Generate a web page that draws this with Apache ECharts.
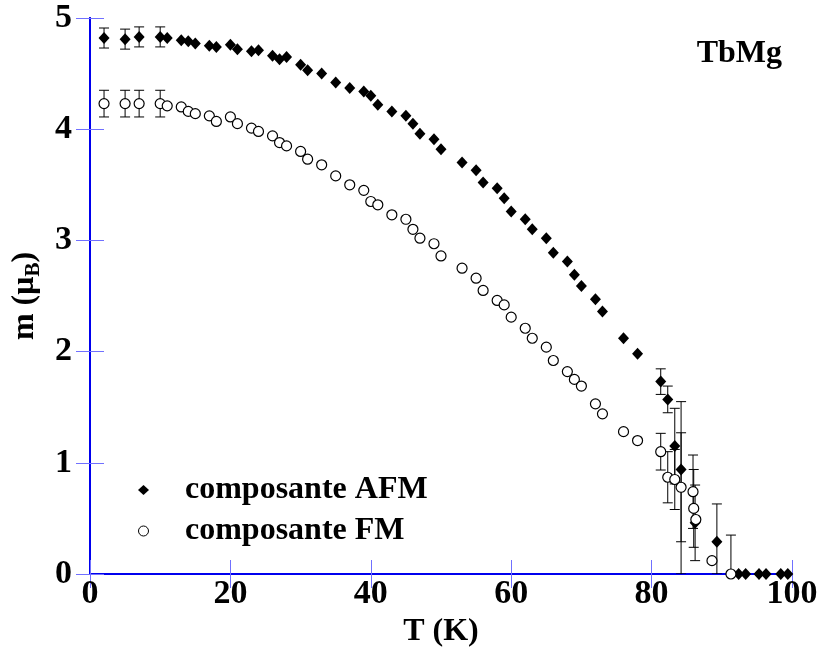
<!DOCTYPE html>
<html>
<head>
<meta charset="utf-8">
<script src="https://cdn.jsdelivr.net/npm/echarts@6/dist/echarts.min.js"></script>
<style>html,body{margin:0;padding:0;background:#fff}#c{width:823px;height:648px}</style>
</head>
<body>
<div id="c"></div>
<script>
// ---- data ----
const xTicks = [0, 20, 40, 60, 80, 100];
const yTicks = [0, 1, 2, 3, 4, 5];

const afmT = [2,5,7,10,11,13,14,15,17,18,20,21,23,24,26,27,28,30,31,33,35,37,39,40,41,43,45,46,47,49,50,53,55,56,58,59,60,62,63,65,66,68,69,70,72,73,76,78,81.3,82.3,83.3,84.2,86.2,89.3,92.4,93.4,95.3,96.3,98.4,99.4];
const afmM = [4.82,4.81,4.83,4.83,4.82,4.80,4.79,4.77,4.75,4.74,4.76,4.72,4.70,4.71,4.66,4.63,4.65,4.58,4.53,4.50,4.42,4.37,4.34,4.30,4.22,4.16,4.12,4.05,3.96,3.91,3.82,3.70,3.63,3.52,3.47,3.38,3.26,3.19,3.10,3.02,2.89,2.81,2.69,2.59,2.47,2.36,2.12,1.98,1.73,1.57,1.15,0.94,0.46,0.29,0,0,0,0,0,0];
const afmErrT  = [2,5,7,10,81.3,82.3,83.3,84.2,86.2,89.3];
const afmErrLo = [0.09,0.09,0.09,0.09,0.115,0.12,0.34,0.94,0.34,0.29];
const afmErrHi = [0.09,0.09,0.09,0.09,0.115,0.12,0.34,0.61,0.34,0.34];

const fmT = [2,5,7,10,11,13,14,15,17,18,20,21,23,24,26,27,28,30,31,33,35,37,39,40,41,43,45,46,47,49,50,53,55,56,58,59,60,62,63,65,66,68,69,70,72,73,76,78,81.3,82.3,83.3,84.2,85.9,86.0,86.3,88.6,91.3];
const fmM = [4.23,4.23,4.23,4.23,4.21,4.20,4.16,4.14,4.12,4.07,4.11,4.05,4.01,3.98,3.94,3.88,3.85,3.80,3.73,3.68,3.58,3.50,3.45,3.35,3.32,3.23,3.19,3.10,3.02,2.97,2.86,2.75,2.66,2.55,2.46,2.42,2.31,2.21,2.12,2.04,1.92,1.82,1.75,1.69,1.53,1.44,1.28,1.20,1.10,0.87,0.85,0.78,0.74,0.59,0.49,0.12,0];
const fmErrT  = [2,5,7,10,81.3,82.3,83.3,84.2,85.9,86.0,91.3];
const fmErrLo = [0.12,0.12,0.12,0.12,0.165,0.23,0.27,0.49,0.33,0.35,0];
const fmErrHi = [0.12,0.12,0.12,0.12,0.165,0.23,0.27,0.49,0.33,0.35,0.35];

const seriesNames = ['composante AFM', 'composante FM'];
const labelTitle = 'TbMg';

// ---- build ----
function pts(T, M) { return T.map((t, i) => [t, M[i]]); }
function errs(ET, lo, hi, T, M) {
  return ET.map((t, i) => { const m = M[T.indexOf(t)]; return [t, m, lo[i], hi[i]]; });
}
const FONT = '"Liberation Serif", "Times New Roman", serif';
const blue = '#0000ee';
const tickBlue = '#7070ff';

function renderErr(params, api) {
  const t = api.value(0), m = api.value(1), lo = api.value(2), hi = api.value(3);
  const top = api.coord([t, m + hi]);
  const bot = api.coord([t, Math.max(0, m - lo)]);
  const cw = 5;
  return {
    type: 'group',
    children: [
      { type: 'line', shape: { x1: top[0], y1: top[1], x2: bot[0], y2: bot[1] }, style: { stroke: '#000', lineWidth: 1 } },
      { type: 'line', shape: { x1: top[0] - cw, y1: top[1], x2: top[0] + cw, y2: top[1] }, style: { stroke: '#000', lineWidth: 1 } },
      { type: 'line', shape: { x1: bot[0] - cw, y1: bot[1], x2: bot[0] + cw, y2: bot[1] }, style: { stroke: '#000', lineWidth: 1 } }
    ]
  };
}

const axisLabelStyle = { color: '#000', fontFamily: FONT, fontWeight: 'bold', fontSize: 34 };

const chart = echarts.init(document.getElementById('c'), null, { renderer: 'canvas' });
chart.setOption({
  animation: false,
  backgroundColor: '#fff',
  title: {
    text: labelTitle, right: 36, top: 33,
    textStyle: { fontFamily: FONT, fontWeight: 'bold', fontSize: 32, color: '#000' }
  },
  legend: {
    orient: 'vertical', left: 133, top: 469, itemGap: 9,
    itemWidth: 11, itemHeight: 10,
    data: [
      { name: seriesNames[0], icon: 'diamond', itemStyle: { color: '#000', borderWidth: 0, opacity: 1 } },
      { name: seriesNames[1], icon: 'circle', itemStyle: { color: '#fff', borderColor: '#000', borderWidth: 1 } }
    ],
    textStyle: { fontFamily: FONT, fontWeight: 'bold', fontSize: 32, color: '#000', padding: [0, 0, 0, 31] }
  },
  grid: { left: 90, right: 31, top: 18, bottom: 74, containLabel: false, outerBoundsMode: 'none' },
  xAxis: [
    {
      type: 'value', min: 0, max: 100, interval: 20, position: 'bottom',
      name: 'T (K)', nameLocation: 'middle', nameGap: 37,
      nameTextStyle: { fontFamily: FONT, fontWeight: 'bold', fontSize: 32, color: '#000' },
      axisLine: { show: true, lineStyle: { color: blue, width: 2 } },
      axisTick: { show: true, inside: true, length: 14, lineStyle: { color: tickBlue, width: 1 } },
      axisLabel: Object.assign({ margin: 3, customValues: xTicks }, axisLabelStyle),
      splitLine: { show: false }
    },
    {
      type: 'value', min: 0, max: 100, interval: 20, position: 'top',
      axisLine: { show: true, lineStyle: { color: blue, width: 2 } },
      axisTick: { show: true, inside: true, length: 14, lineStyle: { color: tickBlue, width: 1 } },
      axisLabel: { show: false }, splitLine: { show: false }
    }
  ],
  yAxis: [
    {
      type: 'value', min: 0, max: 5, interval: 1, position: 'left',
      name: '{a|m (μ}{s|B}{a|)}', nameLocation: 'middle', nameGap: 41, nameRotate: 90,
      nameTextStyle: {
        rich: {
          a: { fontFamily: FONT, fontWeight: 'bold', fontSize: 32, color: '#000' },
          s: { fontFamily: FONT, fontWeight: 'bold', fontSize: 21, color: '#000', verticalAlign: 'bottom', padding: [18, 0, 0, 0] }
        }
      },
      axisLine: { show: true, lineStyle: { color: blue, width: 2 } },
      axisTick: { show: true, inside: true, length: 14, lineStyle: { color: tickBlue, width: 1 } },
      axisLabel: Object.assign({ margin: 18, customValues: yTicks }, axisLabelStyle),
      splitLine: { show: false }
    },
    {
      type: 'value', min: 0, max: 5, interval: 1, position: 'right',
      axisLine: { show: true, lineStyle: { color: blue, width: 2 } },
      axisTick: { show: true, inside: true, length: 14, lineStyle: { color: tickBlue, width: 1 } },
      axisLabel: { show: false }, splitLine: { show: false }
    }
  ],
  series: [
    {
      type: 'custom', name: 'errAFM', renderItem: renderErr, clip: true, z: 2,
      encode: { x: 0, y: 1 }, data: errs(afmErrT, afmErrLo, afmErrHi, afmT, afmM), silent: true
    },
    {
      type: 'custom', name: 'errFM', renderItem: renderErr, clip: true, z: 2,
      encode: { x: 0, y: 1 }, data: errs(fmErrT, fmErrLo, fmErrHi, fmT, fmM), silent: true
    },
    {
      type: 'scatter', name: seriesNames[0], symbol: 'diamond', symbolSize: [11, 12], z: 5,
      itemStyle: { color: '#000', opacity: 1 }, data: pts(afmT, afmM)
    },
    {
      type: 'scatter', name: seriesNames[1], symbol: 'circle', symbolSize: 10, z: 5,
      itemStyle: { color: '#fff', borderColor: '#000', borderWidth: 1.2, opacity: 1 }, data: pts(fmT, fmM)
    }
  ]
});
</script>
</body>
</html>
